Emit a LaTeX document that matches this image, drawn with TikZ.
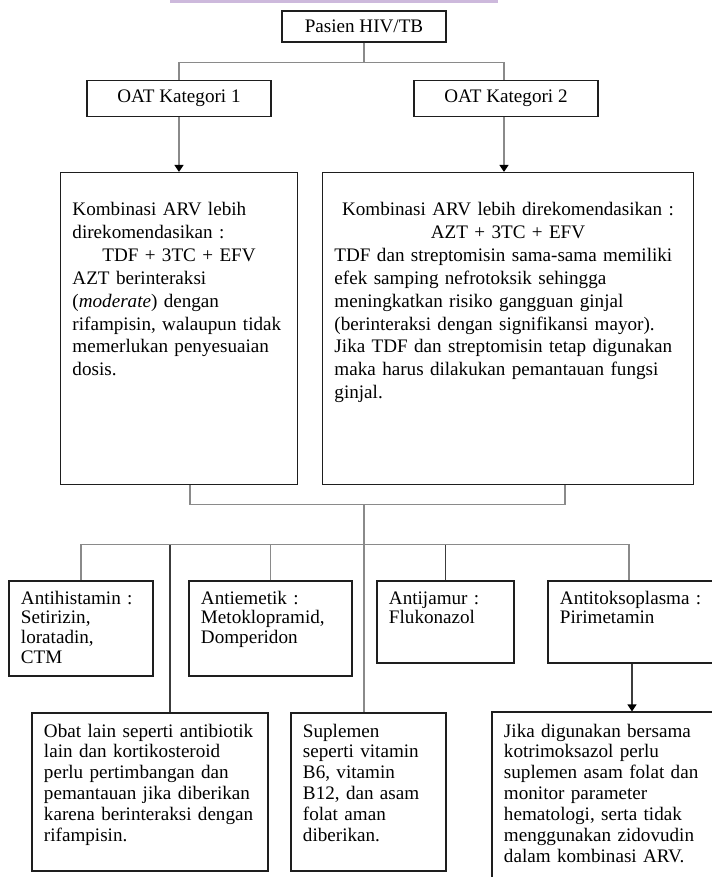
\documentclass[tikz,border=0pt]{standalone}
\usepackage{fontspec}
\setmainfont{Liberation Serif}
\usepackage{tikz}
\usetikzlibrary{arrows.meta, positioning}
\definecolor{boxline}{RGB}{30,30,30}
\definecolor{wiregray}{RGB}{138,138,138}
\definecolor{wiredark}{RGB}{60,60,60}
\definecolor{stripe}{RGB}{205,185,220}
\tikzstyle{header}=[rectangle, draw=boxline, line width=0.3mm, inner sep=0pt]
\tikzstyle{note}=[rectangle, draw=boxline, line width=0.3mm, inner xsep=3mm, inner ysep=0pt]
\tikzstyle{wire}=[draw=wiregray, line width=0.35mm]
\tikzstyle{darkwire}=[draw=wiredark, line width=0.3mm]

\begin{document}
\begin{tikzpicture}[node distance=18mm,>={Triangle[length=1.75mm, width=2.25mm, color=black]},font=\fontsize{13.6}{14.2}\selectfont]
    \useasboundingbox (-91mm,6.625mm) rectangle (87mm,-212.625mm);
    \clip (-91mm,6.625mm) rectangle (87mm,-212.625mm);
    \fill[stripe] (-48.5mm,6.625mm) rectangle (33.5mm,6mm);

    % Patient and categories.
    \node[header, minimum width=41mm, minimum height=7.75mm] (pasien) {Pasien HIV/TB};
    \node[header, minimum width=46mm, minimum height=9mm] (oat1) [below of=pasien, xshift=-46.25mm] {OAT Kategori 1};
    \node[header, minimum width=46mm, minimum height=9mm] (oat2) [below of=pasien, xshift=35.5mm] {OAT Kategori 2};

    % Recommended combinations.
    \node[note, text width=53.25mm, text height=10.75mm, text depth=67.25mm, font=\fontsize{13.6}{16.3}\selectfont] (arv1) [below of=oat1, yshift=-39.5mm]
      {Kombinasi ARV lebih\\ direkomendasikan :\par
       {\centering TDF + 3TC + EFV\par}
       AZT berinteraksi\\ (\textit{moderate}) dengan\\ rifampisin, walaupun tidak\\ memerlukan penyesuaian\\ dosis.};
    \node[note, text width=86.75mm, text height=10.75mm, text depth=67.25mm, font=\fontsize{13.6}{16.3}\selectfont] (arv2) [below of=oat2, xshift=0.5mm, yshift=-39.5mm]
      {{\centering Kombinasi ARV lebih direkomendasikan :\\ AZT + 3TC + EFV\par}
       TDF dan streptomisin sama-sama memiliki\\ efek samping nefrotoksik sehingga\\ meningkatkan risiko gangguan ginjal\\ (berinteraksi dengan signifikansi mayor).\\ Jika TDF dan streptomisin tetap digunakan\\ maka harus dilakukan pemantauan fungsi\\ ginjal.};

    % Other drugs.
    \node[note, text width=30mm, text height=5.75mm, text depth=18mm] (anti1) [below of=arv1, xshift=-24.5mm, yshift=-57mm]
      {Antihistamin :\\ Setirizin,\\ loratadin,\\ CTM};
    \node[note, text width=34.75mm, text height=5.75mm, text depth=18mm] (anti2) [right of=anti1, xshift=29.375mm]
      {Antiemetik :\\ Metoklopramid,\\ Domperidon};
    \node[note, text width=28.25mm, text height=5.75mm, text depth=14.75mm] (anti3) [right of=anti2, xshift=25.75mm, yshift=1.625mm]
      {Antijamur :\\ Flukonazol};
    \node[note, text width=37mm, text height=5.75mm, text depth=14.75mm] (anti4) [right of=anti3, xshift=29.125mm]
      {Antitoksoplasma :\\ Pirimetamin};

    % Notes.
    \node[note, text width=53mm, text height=6mm, text depth=33.5mm, font=\fontsize{13.6}{14.9}\selectfont] (obat) [below of=anti1, xshift=17.25mm, yshift=-22.875mm]
      {Obat lain seperti antibiotik\\ lain dan kortikosteroid\\ perlu pertimbangan dan\\ pemantauan jika diberikan\\ karena berinteraksi dengan\\ rifampisin.};
    \node[note, text width=32.75mm, text height=6mm, text depth=33.5mm, font=\fontsize{13.6}{14.9}\selectfont] (supl) [right of=obat, xshift=36.625mm]
      {Suplemen\\ seperti vitamin\\ B6, vitamin\\ B12, dan asam\\ folat aman\\ diberikan.};
    \node[note, text width=51mm, text height=6.25mm, text depth=39.5mm, font=\fontsize{13.6}{14.9}\selectfont] (jika) [right of=supl, xshift=41.375mm, yshift=-2.875mm]
      {Jika digunakan bersama\\ kotrimoksazol perlu\\ suplemen asam folat dan\\ monitor parameter\\ hematologi, serta tidak\\ menggunakan zidovudin\\ dalam kombinasi ARV.};

    % Top branches.
    \coordinate (top) at ([yshift=-5mm]pasien.south);
    \draw[wire] (pasien.south) -- (top);
    \draw[wire] (oat1.north) |- (top) -| ([xshift=-0.5mm]oat2.north);
    \draw[wire, ->] (oat1.south) -- (arv1.north);
    \draw[wire, ->] ([xshift=-0.5mm]oat2.south) -- ([xshift=-0.5mm]oat2.south |- arv2.north);

    % Lower branches.
    \draw[wire] ([xshift=2.75mm]arv1.south) -- ++(0,-4.9mm) coordinate (join) -| ([xshift=14.25mm]arv2.south);
    \path (pasien |- join) ++(0,-10mm) coordinate (bus);
    \draw[wire] (pasien |- join) -- (pasien |- supl.north);
    \draw[wire] (anti1.north) |- (bus) -| ([xshift=-1.25mm]anti4.north);
    \draw[wire] (anti2.north) -- (anti2.north |- bus);
    \draw[darkwire] (anti3.north) -- (anti3.north |- bus);
    \draw[darkwire] ([xshift=5mm]obat.north) -- ([xshift=5mm]obat.north |- bus);
    \draw[darkwire, ->] ([xshift=-0.5mm]anti4.south) -- ([xshift=-0.5mm]anti4.south |- jika.north);
\end{tikzpicture}
\end{document}
